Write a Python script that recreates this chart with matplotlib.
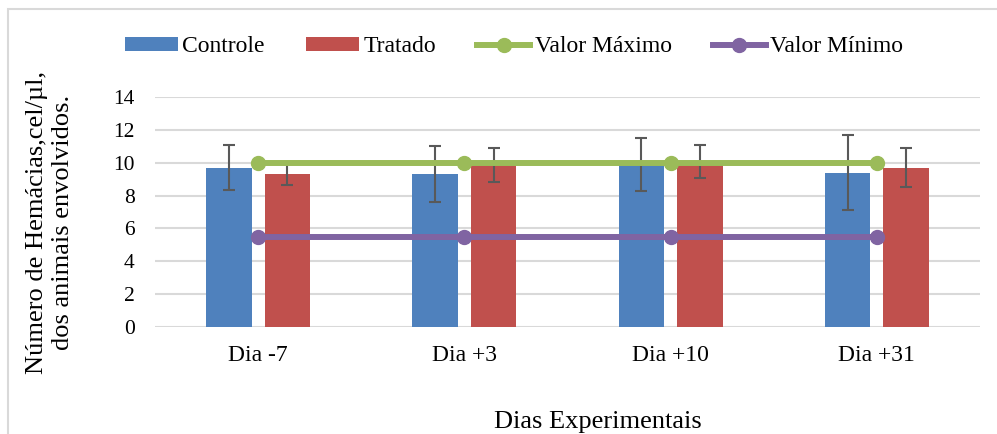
import matplotlib
matplotlib.use("Agg")
import matplotlib.pyplot as plt
from matplotlib.patches import Patch, Rectangle
from matplotlib.lines import Line2D
import numpy as np

plt.rcParams['font.family'] = ['Liberation Serif', 'DejaVu Serif']

categories = ["Dia -7", "Dia +3", "Dia +10", "Dia +31"]
controle = [9.7, 9.3, 9.9, 9.4]
controle_err = [1.38, 1.69, 1.6, 2.26]
tratado = [9.3, 9.85, 10.05, 9.7]
tratado_err = [0.65, 1.03, 1.0, 1.17]
valor_maximo = [10, 10, 10, 10]
valor_minimo = [5.5, 5.5, 5.5, 5.5]
yticks = [0, 2, 4, 6, 8, 10, 12, 14]

c_ctrl = "#4F81BD"
c_trat = "#C0504D"
c_max = "#9BBB59"
c_min = "#8064A2"
c_err = "#595959"

fig = plt.figure(figsize=(9.97, 4.34), dpi=100)
ax = fig.add_axes([155/997, 1-327/434, (980-155)/997, (327-97)/434])

x = np.arange(len(categories))
w = 0.22
off = 0.142
ax.bar(x - off, controle, w, color=c_ctrl, zorder=2)
ax.bar(x + off, tratado, w, color=c_trat, zorder=2)
ax.errorbar(x - off, controle, yerr=controle_err, fmt='none', ecolor=c_err,
            elinewidth=1.5, capsize=4.3, capthick=1.5, zorder=3)
ax.errorbar(x + off, tratado, yerr=tratado_err, fmt='none', ecolor=c_err,
            elinewidth=1.5, capsize=4.3, capthick=1.5, zorder=3)
ax.plot(x, valor_maximo, color=c_max, lw=4.3, marker='o', ms=10, zorder=4)
ax.plot(x, valor_minimo, color=c_min, lw=4.3, marker='o', ms=10, zorder=4)

ax.set_xlim(-0.5, len(categories) - 0.5)
ax.set_ylim(0, 14)
ax.set_yticks(yticks)
ax.set_yticklabels([str(v) for v in yticks], fontsize=15.5)
ax.set_xticks(x)
ax.set_xticklabels(categories, fontsize=17)
ax.tick_params(axis='both', length=0)
ax.tick_params(axis='y', pad=14.5)
ax.tick_params(axis='x', pad=13)
for s in ax.spines.values():
    s.set_visible(False)
ax.yaxis.grid(True, color="#D9D9D9", lw=1.5, zorder=0)
ax.set_axisbelow(True)

fig.text(50/997, 1-222/434, "Número de Hemácias,cel/µl,\ndos animais envolvidos.",
         rotation=90, ha='center', va='center', fontsize=19, multialignment='center',
         linespacing=1.25)
fig.text(598/997, 1-422/434, "Dias Experimentais", ha='center', va='center', fontsize=19)

handles = [
    Patch(facecolor=c_ctrl),
    Patch(facecolor=c_trat),
    Line2D([0], [0], color=c_max, lw=4.3, marker='o', ms=10),
    Line2D([0], [0], color=c_min, lw=4.3, marker='o', ms=10),
]
labels = ["Controle", "Tratado", "Valor Máximo", "Valor Mínimo"]
fig.legend(handles, labels, loc='center', bbox_to_anchor=(514/997, 1-47/434), ncol=4,
           frameon=False, fontsize=17, handlelength=2.25, handletextpad=0.18,
           columnspacing=1.75, handleheight=0.5)

fig.add_artist(Rectangle((8/997, -0.1), 1.2, 1 - 9/434 + 0.1, transform=fig.transFigure,
                         fill=False, edgecolor="#D9D9D9", lw=1.5))

fig.savefig("out.png", dpi=100)
